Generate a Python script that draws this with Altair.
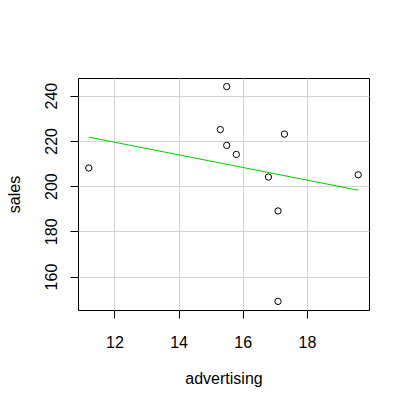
import altair as alt
import pandas as pd

# Advertising spend vs. sales, with a least-squares fit line
advertising = [11.2, 15.5, 15.3, 15.5, 15.8, 17.3, 16.8, 17.1, 19.6, 17.1]
sales = [208, 244, 225, 218, 214, 223, 204, 189, 205, 149]

x_ticks = [12, 14, 16, 18]
y_ticks = [160, 180, 200, 220, 240]

df = pd.DataFrame({"advertising": advertising, "sales": sales})

FONT = "Liberation Sans"

x_scale = alt.Scale(domain=[10.864, 19.936], nice=False, zero=False)
y_scale = alt.Scale(domain=[145.2, 247.8], nice=False, zero=False)

x_axis = alt.Axis(
    values=x_ticks, title="advertising", domain=False,
    tickSize=8, labelPadding=29, labelBaseline="alphabetic",
    titleX=145.5, titleY=73.5, titleAlign="center", titleBaseline="alphabetic",
)
y_axis = alt.Axis(
    values=y_ticks, title="sales", domain=False,
    tickSize=8, labelPadding=14, labelAngle=270, labelAlign="center",
    labelBaseline="alphabetic",
    titleX=-59, titleY=116, titleAngle=270, titleAlign="center",
    titleBaseline="alphabetic",
)

points = alt.Chart(df).mark_point(
    shape="circle", filled=False, color="black", opacity=1,
    size=40, strokeWidth=1
).encode(
    x=alt.X("advertising:Q", scale=x_scale, axis=x_axis),
    y=alt.Y("sales:Q", scale=y_scale, axis=y_axis),
)

fit = alt.Chart(df).transform_regression(
    "advertising", "sales"
).mark_line(color="#00CD00", strokeWidth=1).encode(
    x=alt.X("advertising:Q", scale=x_scale),
    y=alt.Y("sales:Q", scale=y_scale),
)

chart = alt.layer(points, fit).properties(
    width=291,
    height=232,
    autosize=alt.AutoSizeParams(type="none"),
    padding={"left": 78, "top": 78, "right": 40, "bottom": 98},
    background="white",
).configure_view(
    stroke="black", strokeWidth=1
).configure_axis(
    labelFont=FONT, labelFontSize=16, labelColor="black",
    titleFont=FONT, titleFontSize=16, titleColor="black", titleFontWeight="normal",
    tickColor="black", tickWidth=1,
    gridColor="#D3D3D3", gridWidth=1,
)

chart.save("out.html", embed_options={"renderer": "svg", "actions": False})
